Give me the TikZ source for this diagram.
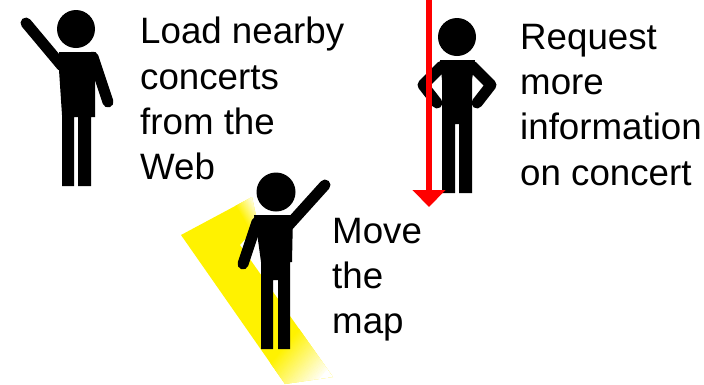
\documentclass[tikz,border=0pt]{standalone}
\usepackage{fontspec}
\setmainfont{Liberation Sans}
\usetikzlibrary{arrows.meta}
\tikzset{
  limb/.style={black,line width=11pt,line cap=round,line join=round},
  caption/.style={align=left,anchor=north west,inner sep=0pt,font=\fontsize{36.7}{45.2}\selectfont},
  beam/.style={red,line width=6pt,-{Triangle[width=32pt,length=17pt]}}
}
\begin{document}
\begin{tikzpicture}[x=1pt,y=-1pt]
\useasboundingbox (0,0) rectangle (704,384);
% Faisceau jaune
\begin{scope}
\clip (181,235) -- (252,197) -- (258,225) -- (240,245) -- (333,377) -- (285,384) -- cycle;
\fill[yellow] (170,190) rectangle (340,390);
\begin{scope}[shift={(236,207)},rotate=30]
\foreach \i in {0,...,19}
  \fill[yellow!\the\numexpr100-5*\i\relax!white] (\i,-60) rectangle (\i+1.5,60);
\fill[white] (20,-60) rectangle (60,60);
\end{scope}
\begin{scope}[shift={(285,345)},rotate=-40]
\foreach \i in {0,...,47}
  \fill[yellow!\the\numexpr100-2*\i\relax!white] (\i,-90) rectangle (\i+1.5,90);
\fill[white] (48,-90) rectangle (90,90);
\end{scope}
\end{scope}
% Personnage de gauche
\fill (76,29) circle (19pt);
\fill (59,52) -- (95,52) -- (95,117) -- (91,117) -- (91,186) -- (78,186) -- (78,117) -- (74,117) -- (74,186) -- (62,186) -- (62,115) -- (59,70) -- cycle;
\draw[limb] (26,23) -- (62,66);
\draw[limb] (93,57) -- (108,102);
% Personnage du milieu
\fill (457,37) circle (19pt);
\fill (440,60) -- (475,60) -- (472,80) -- (472,193) -- (459,193) -- (459,124) -- (455,124) -- (455,193) -- (442,193) -- (442,80) -- cycle;
\draw[limb] (442,66) -- (423,85) -- (437,103);
\draw[limb] (472,66) -- (491,85) -- (477,103);
% Personnage du bas
\fill (276,192) circle (19.5pt);
\fill (254,215) -- (293,215) -- (292,262) -- (290,262) -- (290,349) -- (278,349) -- (278,280) -- (273,280) -- (273,349) -- (261,349) -- (261,262) -- (258,240) -- cycle;
\draw[limb] (288,226) -- (325,185);
\draw[limb] (257,222) -- (243,264);
% Textes
\node[caption] (load) at (140,17) {Load nearby\\concerts\\from the\\Web};
\node[caption] (request) at (520,24) {Request\\more\\information\\on concert};
\node[caption] (move) at (332,218) {Move\\the\\map};
% Fleche rouge
\coordinate (arrowtop) at (429,0);
\coordinate (arrowtip) at (429,207);
\draw[beam] (arrowtop) -- (arrowtip);
\end{tikzpicture}
\end{document}
